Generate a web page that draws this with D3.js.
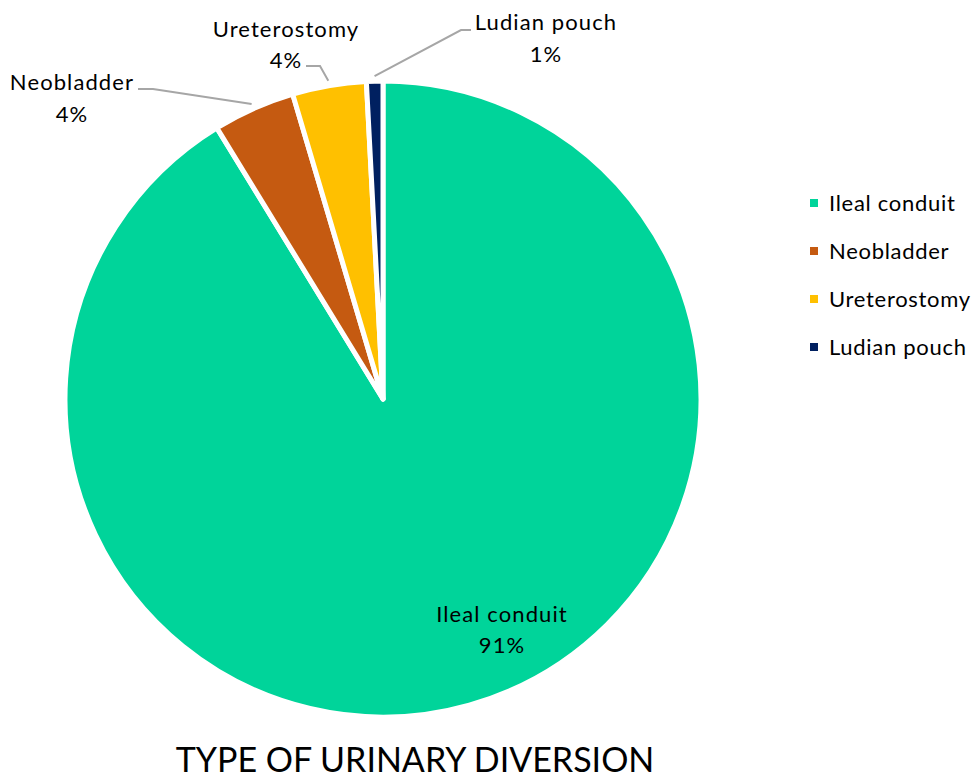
<!DOCTYPE html>
<html>
<head>
<meta charset="utf-8">
<script src="https://cdn.jsdelivr.net/npm/d3@7"></script>
<style>
  html, body { margin: 0; padding: 0; background: #ffffff; }
  svg text { font-family: Lato, "Open Sans", sans-serif; fill: #000; }
</style>
</head>
<body>
<svg id="chart" width="974" height="781"></svg>
<script>
// ---- data ----
const categories = ["Ileal conduit", "Neobladder", "Ureterostomy", "Ludian pouch"];
const counts = [219, 10, 9, 2];
const percentLabels = ["91%", "4%", "4%", "1%"];
const colors = ["#00D49A", "#C55A11", "#FFC000", "#002060"];
const title = "TYPE OF URINARY DIVERSION";

// ---- layout ----
const W = 974, H = 781;
const cx = 383, cy = 399, R = 318;
const svg = d3.select("#chart");

const data = categories.map((c, i) => ({ name: c, value: counts[i], pct: percentLabels[i], color: colors[i] }));
const pie = d3.pie().sort(null).value(d => d.value);
const arcs = pie(data);
const arc = d3.arc().innerRadius(0).outerRadius(R);

const g = svg.append("g").attr("transform", `translate(${cx},${cy})`);
g.selectAll("path.slice").data(arcs).enter().append("path")
  .attr("class", "slice")
  .attr("d", arc)
  .attr("fill", d => d.data.color)
  .attr("stroke", "#ffffff")
  .attr("stroke-width", 5)
  .attr("stroke-linejoin", "round");

// label placement (layout offsets, relative to the chart)
const labelPos = [
  { x: 502, y1: 622, y2: 653, leader: null },
  { x: 72, y1: 90, y2: 122, leader: { elbow: [153, 89], end: [138, 89] } },
  { x: 286, y1: 37, y2: 68, leader: { elbow: [320, 66], end: [306, 66] } },
  { x: 546, y1: 30, y2: 62, leader: { elbow: [461, 30], end: [471, 30] } }
];

const lineArc = d3.arc().innerRadius(R + 5).outerRadius(R + 5);
arcs.forEach((a, i) => {
  const lp = labelPos[i];
  if (lp.leader) {
    const c = lineArc.centroid(a);
    const start = [cx + c[0], cy + c[1]];
    svg.append("polyline")
      .attr("points", [start, lp.leader.elbow, lp.leader.end].map(p => p.join(",")).join(" "))
      .attr("fill", "none")
      .attr("stroke", "#A6A6A6")
      .attr("stroke-width", 2);
  }
  svg.append("text").attr("x", lp.x).attr("y", lp.y1)
    .attr("text-anchor", "middle").attr("font-size", 22).attr("letter-spacing", 1.1)
    .text(a.data.name);
  svg.append("text").attr("x", lp.x).attr("y", lp.y2)
    .attr("text-anchor", "middle").attr("font-size", 22).attr("letter-spacing", 1.1)
    .text(a.data.pct);
});

// legend
const legendY = d3.scalePoint().domain(categories).range([203, 347]);
const lg = svg.append("g");
data.forEach(d => {
  const y = legendY(d.name);
  lg.append("rect").attr("x", 810).attr("y", y - 4).attr("width", 8).attr("height", 8).attr("fill", d.color);
  lg.append("text").attr("x", 829).attr("y", y + 8).attr("font-size", 22).attr("letter-spacing", 0.7).text(d.name);
});

// title
svg.append("text").attr("x", 415).attr("y", 772)
  .attr("text-anchor", "middle").attr("font-size", 34)
  .text(title);
</script>
</body>
</html>
